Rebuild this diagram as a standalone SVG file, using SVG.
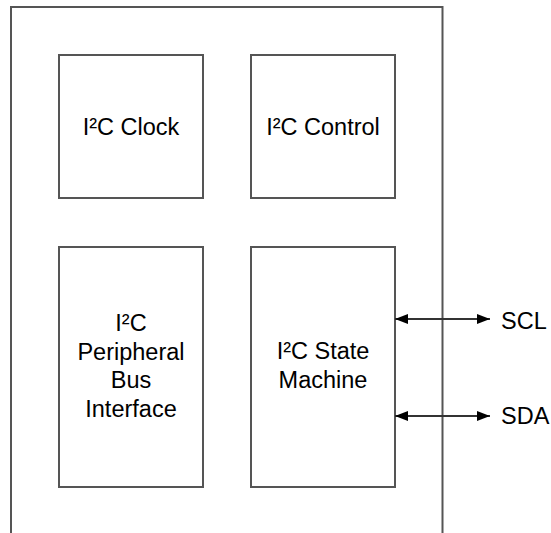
<svg xmlns="http://www.w3.org/2000/svg" width="551" height="533" viewBox="0 0 551 533">
  <style>
    .box { fill: #ffffff; stroke: #555555; stroke-width: 2; }
    .frame { fill: none; stroke: #555555; stroke-width: 2; }
    .wire { stroke: #333333; stroke-width: 2; fill: none; }
    .label { font-family: "Liberation Sans", Arial, sans-serif; font-size: 23.5px; fill: #000000; text-anchor: middle; }
    .pin { font-family: "Liberation Sans", Arial, sans-serif; font-size: 23.5px; fill: #000000; }
  </style>
  <defs>
    <marker id="head" viewBox="0 0 13 10" refX="13" refY="5" markerWidth="13" markerHeight="10" markerUnits="userSpaceOnUse" orient="auto-start-reverse">
      <path d="M0,0 L13,5 L0,10 Z" fill="#000000"/>
    </marker>
  </defs>
  <rect width="551" height="533" fill="#ffffff"/>

  <!-- I2C module outline, open at the bottom -->
  <path id="module-frame" class="frame" d="M11,533 V7 H442.5 V533"/>

  <g id="i2c-clock">
    <rect class="box" x="59" y="55" width="144" height="143"/>
    <text class="label" x="131" y="135">I²C Clock</text>
  </g>

  <g id="i2c-control">
    <rect class="box" x="251" y="55" width="144" height="143"/>
    <text class="label" x="323" y="135">I²C Control</text>
  </g>

  <g id="i2c-bus-interface">
    <rect class="box" x="59" y="247" width="144" height="240"/>
    <text class="label" x="131" y="330.5">I²C</text>
    <text class="label" x="131" y="359.5">Peripheral</text>
    <text class="label" x="131" y="388.3">Bus</text>
    <text class="label" x="131" y="417">Interface</text>
  </g>

  <g id="i2c-state-machine">
    <rect class="box" x="251" y="247" width="144" height="240"/>
    <text class="label" x="323" y="359.3">I²C State</text>
    <text class="label" x="323" y="388">Machine</text>
  </g>

  <g id="connectors">
    <line class="wire" x1="395" y1="319" x2="490" y2="319" marker-start="url(#head)" marker-end="url(#head)"/>
    <line class="wire" x1="395" y1="416" x2="490" y2="416" marker-start="url(#head)" marker-end="url(#head)"/>
  </g>

  <g id="pins">
    <text class="pin" x="501" y="329.3">SCL</text>
    <text class="pin" x="501" y="424.3">SDA</text>
  </g>
</svg>
